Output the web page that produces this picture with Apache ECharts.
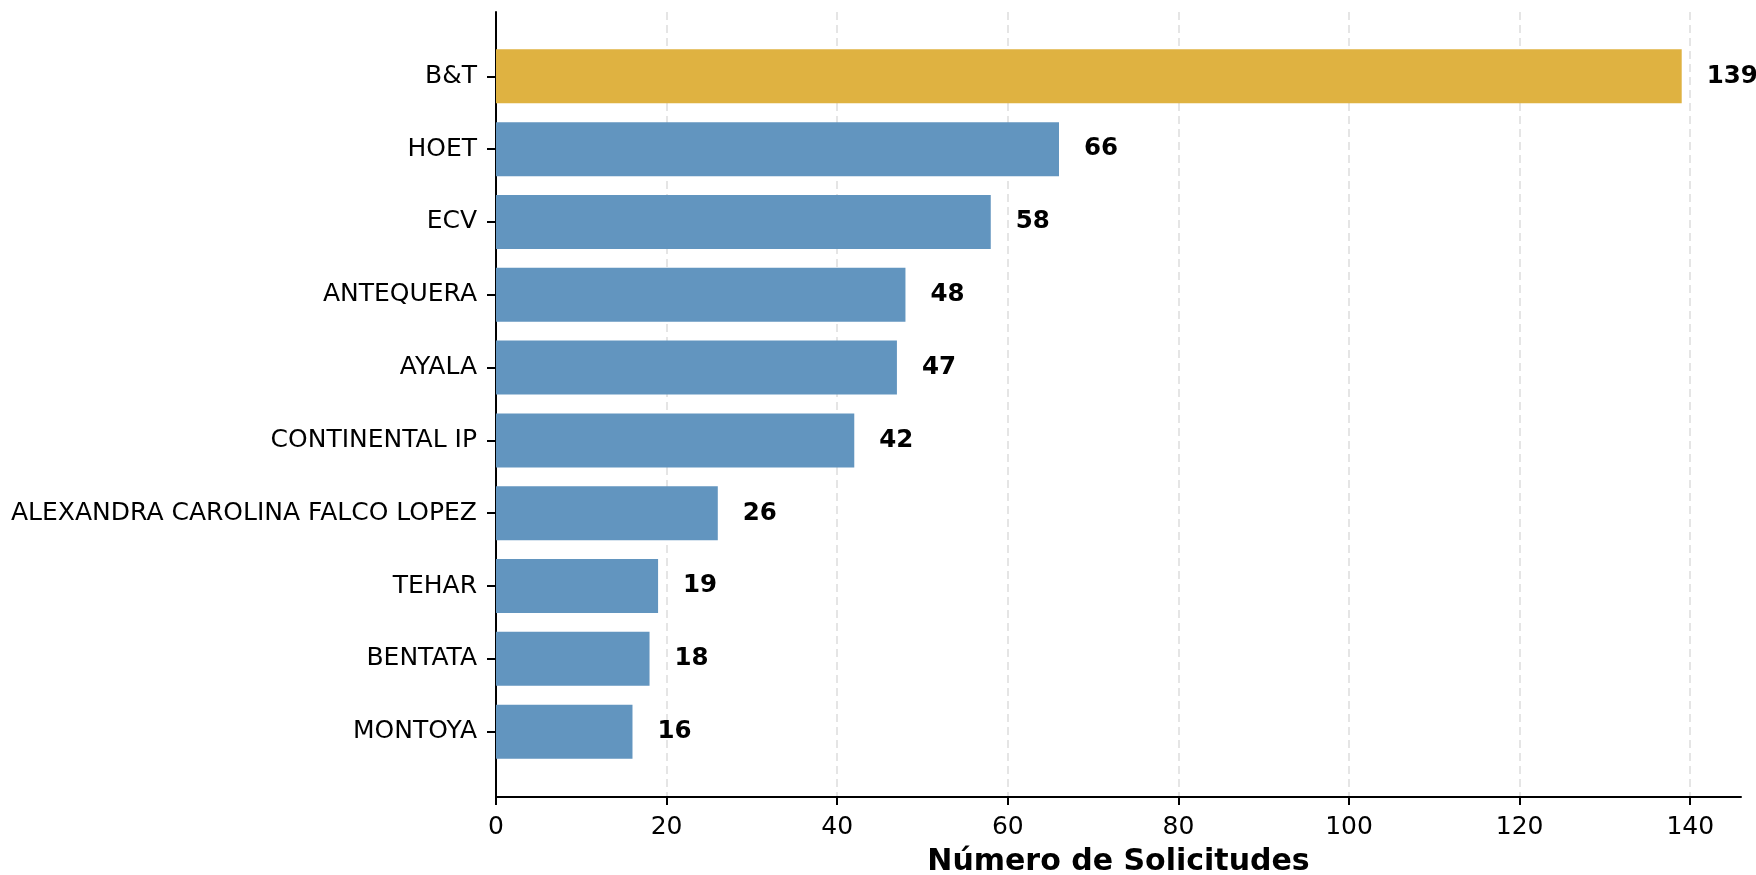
<!DOCTYPE html>
<html>
<head>
<meta charset="utf-8">
<script src="https://cdn.jsdelivr.net/npm/echarts@6/dist/echarts.min.js"></script>
<style>
html,body{margin:0;padding:0;background:#fff;}
#chart{width:1756px;height:875px;}
</style>
</head>
<body>
<div id="chart"></div>
<script>
const categories = ["B&T","HOET","ECV","ANTEQUERA","AYALA","CONTINENTAL IP","ALEXANDRA CAROLINA FALCO LOPEZ","TEHAR","BENTATA","MONTOYA"];
const values = [139,66,58,48,47,42,26,19,18,16];
const xTicks = [0,20,40,60,80,100,120,140];
const xAxisName = "Número de Solicitudes";

const maxVal = Math.max(...values);
const xMax = maxVal * 1.05;
const BLUE = "#6295BF";
const GOLD = "#DFB241";
const FONT = "DejaVu Sans";

const chart = echarts.init(document.getElementById('chart'), null, {renderer:'canvas'});
chart.setOption({
  animation:false,
  backgroundColor:'#ffffff',
  grid:[
    {left:496, right:15, top:12, bottom:78, containLabel:false, outerBoundsMode:'none'},
    {left:496, right:15, top:39.9, bottom:106.9, containLabel:false, outerBoundsMode:'none'}
  ],
  xAxis:[
    {gridIndex:0, type:'value', min:0, max:xMax,
     axisLine:{show:true, lineStyle:{color:'#000', width:2}},
     axisTick:{show:true, length:8, lineStyle:{color:'#000', width:2},
       customValues: xTicks},
     axisLabel:{show:true, margin:18, fontSize:25, fontFamily:FONT, color:'#000',
       customValues: xTicks},
     splitLine:{show:true, lineStyle:{color:'#dddddd', width:1.5, type:[8,5]}},
     name:xAxisName, nameLocation:'middle', nameGap:50,
     nameTextStyle:{fontSize:30, fontWeight:'bold', fontFamily:FONT, color:'#000'}
    },
    {gridIndex:1, type:'value', min:0, max:xMax, show:false, splitLine:{show:false}}
  ],
  yAxis:[
    {gridIndex:0, type:'value', min:0, max:1,
     axisLine:{show:true, lineStyle:{color:'#000', width:2}},
     axisTick:{show:false}, axisLabel:{show:false}, splitLine:{show:false}},
    {gridIndex:1, type:'category', data:categories, inverse:true,
     axisLine:{show:false},
     axisTick:{show:true, alignWithLabel:true, length:9, lineStyle:{color:'#000', width:2}},
     axisLabel:{margin:19, fontSize:25, fontFamily:FONT, color:'#000'},
     splitLine:{show:false}}
  ],
  series:[{
    type:'bar', xAxisIndex:1, yAxisIndex:1,
    barWidth:54,
    data: values.map(v => ({value:v, itemStyle:{color: v===maxVal ? GOLD : BLUE}})),
    label:{show:true, position:'right', distance:25, fontSize:24.5, fontWeight:'bold',
      fontFamily:FONT, color:'#000', formatter:'{c}'}
  }]
});
</script>
</body>
</html>
